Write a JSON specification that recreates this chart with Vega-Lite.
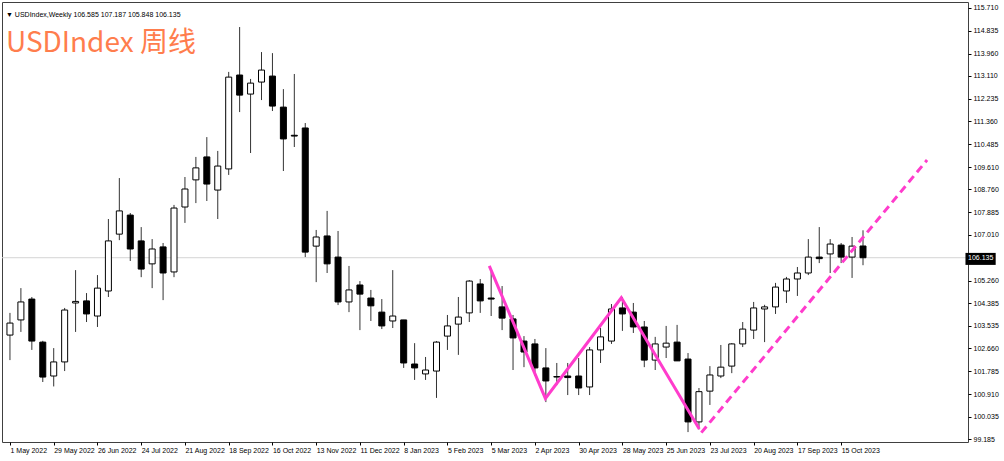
{
  "$schema": "https://vega.github.io/schema/vega-lite/v6.json",
  "width": 966,
  "height": 440,
  "autosize": "none",
  "padding": {"left": 2, "top": 2, "right": 36, "bottom": 19},
  "background": "white",
  "config": {
    "view": {"stroke": "#404040", "strokeWidth": 1},
    "font": "Liberation Sans",
    "axis": {"labelOverlap": false, "labelBound": false, "labelFlush": false}
  },
  "title": {
    "text": "▼ USDIndex,Weekly  106.585 107.187 105.848 106.135",
    "subtitle": "USDIndex 周线",
    "anchor": "start",
    "frame": "group",
    "orient": "top",
    "offset": -56,
    "dx": 4,
    "font": "Liberation Sans",
    "fontSize": 7,
    "fontWeight": "normal",
    "color": "#000000",
    "subtitleFont": "Noto Sans CJK SC",
    "subtitleFontSize": 28,
    "subtitleColor": "#ff7d4d",
    "subtitlePadding": 12
  },
  "datasets": {
    "candles": [
      {"date": "2022-05-01", "open": 103.17, "high": 104.02, "low": 102.21, "close": 103.63},
      {"date": "2022-05-08", "open": 103.75, "high": 104.97, "low": 103.29, "close": 104.44},
      {"date": "2022-05-15", "open": 104.55, "high": 104.63, "low": 102.60, "close": 102.94},
      {"date": "2022-05-22", "open": 102.90, "high": 102.95, "low": 101.37, "close": 101.56},
      {"date": "2022-05-29", "open": 101.60, "high": 102.67, "low": 101.20, "close": 102.14},
      {"date": "2022-06-05", "open": 102.14, "high": 104.21, "low": 101.79, "close": 104.13},
      {"date": "2022-06-12", "open": 104.40, "high": 105.66, "low": 103.29, "close": 104.46},
      {"date": "2022-06-19", "open": 104.48, "high": 104.78, "low": 103.67, "close": 103.98},
      {"date": "2022-06-26", "open": 103.90, "high": 105.47, "low": 103.48, "close": 104.97},
      {"date": "2022-07-03", "open": 104.86, "high": 107.62, "low": 104.63, "close": 106.78},
      {"date": "2022-07-10", "open": 107.04, "high": 109.19, "low": 106.81, "close": 107.93},
      {"date": "2022-07-17", "open": 107.77, "high": 107.85, "low": 106.01, "close": 106.47},
      {"date": "2022-07-24", "open": 106.78, "high": 107.31, "low": 105.39, "close": 105.70},
      {"date": "2022-07-31", "open": 105.90, "high": 106.85, "low": 104.97, "close": 106.47},
      {"date": "2022-08-07", "open": 106.55, "high": 106.70, "low": 104.51, "close": 105.55},
      {"date": "2022-08-14", "open": 105.59, "high": 108.16, "low": 105.39, "close": 108.04},
      {"date": "2022-08-21", "open": 108.08, "high": 109.23, "low": 107.47, "close": 108.77},
      {"date": "2022-08-28", "open": 109.12, "high": 110.00, "low": 108.23, "close": 109.58},
      {"date": "2022-09-04", "open": 110.00, "high": 110.76, "low": 108.31, "close": 108.96},
      {"date": "2022-09-11", "open": 108.73, "high": 110.23, "low": 107.62, "close": 109.65},
      {"date": "2022-09-18", "open": 109.54, "high": 113.26, "low": 109.31, "close": 113.06},
      {"date": "2022-09-25", "open": 113.14, "high": 114.98, "low": 111.72, "close": 112.37},
      {"date": "2022-10-02", "open": 112.41, "high": 112.99, "low": 110.15, "close": 112.83},
      {"date": "2022-10-09", "open": 112.87, "high": 114.02, "low": 112.18, "close": 113.33},
      {"date": "2022-10-16", "open": 113.10, "high": 113.98, "low": 111.76, "close": 111.95},
      {"date": "2022-10-23", "open": 111.91, "high": 112.60, "low": 109.46, "close": 110.69},
      {"date": "2022-10-30", "open": 110.83, "high": 113.18, "low": 110.38, "close": 110.80},
      {"date": "2022-11-06", "open": 111.11, "high": 111.30, "low": 106.16, "close": 106.35},
      {"date": "2022-11-13", "open": 106.58, "high": 107.20, "low": 105.20, "close": 106.93},
      {"date": "2022-11-20", "open": 106.97, "high": 107.93, "low": 105.55, "close": 105.90},
      {"date": "2022-11-27", "open": 106.16, "high": 107.16, "low": 104.32, "close": 104.44},
      {"date": "2022-12-04", "open": 104.44, "high": 105.82, "low": 104.05, "close": 104.90},
      {"date": "2022-12-11", "open": 105.09, "high": 105.24, "low": 103.36, "close": 104.74},
      {"date": "2022-12-18", "open": 104.59, "high": 104.90, "low": 103.71, "close": 104.29},
      {"date": "2022-12-25", "open": 104.05, "high": 104.55, "low": 103.40, "close": 103.52},
      {"date": "2023-01-01", "open": 103.71, "high": 105.66, "low": 103.44, "close": 103.90},
      {"date": "2023-01-08", "open": 103.75, "high": 103.75, "low": 101.91, "close": 102.10},
      {"date": "2023-01-15", "open": 102.06, "high": 102.86, "low": 101.45, "close": 101.91},
      {"date": "2023-01-22", "open": 101.68, "high": 102.33, "low": 101.45, "close": 101.83},
      {"date": "2023-01-29", "open": 101.79, "high": 102.94, "low": 100.76, "close": 102.90},
      {"date": "2023-02-05", "open": 103.13, "high": 103.94, "low": 102.60, "close": 103.52},
      {"date": "2023-02-12", "open": 103.59, "high": 104.63, "low": 102.41, "close": 103.86},
      {"date": "2023-02-19", "open": 104.02, "high": 105.28, "low": 103.67, "close": 105.24},
      {"date": "2023-02-26", "open": 105.13, "high": 105.32, "low": 104.02, "close": 104.48},
      {"date": "2023-03-05", "open": 104.59, "high": 105.60, "low": 103.90, "close": 104.55},
      {"date": "2023-03-12", "open": 104.25, "high": 105.05, "low": 103.36, "close": 103.82},
      {"date": "2023-03-19", "open": 103.79, "high": 103.94, "low": 101.83, "close": 103.06},
      {"date": "2023-03-26", "open": 102.94, "high": 103.13, "low": 101.94, "close": 102.52},
      {"date": "2023-04-02", "open": 102.83, "high": 103.02, "low": 101.60, "close": 101.91},
      {"date": "2023-04-09", "open": 101.91, "high": 102.67, "low": 100.60, "close": 101.41},
      {"date": "2023-04-16", "open": 101.56, "high": 102.10, "low": 101.25, "close": 101.58},
      {"date": "2023-04-23", "open": 101.60, "high": 102.10, "low": 100.87, "close": 101.54},
      {"date": "2023-04-30", "open": 101.60, "high": 102.29, "low": 100.87, "close": 101.14},
      {"date": "2023-05-07", "open": 101.18, "high": 102.71, "low": 100.87, "close": 102.60},
      {"date": "2023-05-14", "open": 102.60, "high": 103.44, "low": 102.10, "close": 103.10},
      {"date": "2023-05-21", "open": 102.94, "high": 104.36, "low": 102.83, "close": 104.17},
      {"date": "2023-05-28", "open": 104.21, "high": 104.63, "low": 103.33, "close": 103.98},
      {"date": "2023-06-04", "open": 104.05, "high": 104.40, "low": 103.25, "close": 103.48},
      {"date": "2023-06-11", "open": 103.48, "high": 103.71, "low": 101.94, "close": 102.21},
      {"date": "2023-06-18", "open": 102.21, "high": 103.10, "low": 101.83, "close": 102.83},
      {"date": "2023-06-25", "open": 102.71, "high": 103.52, "low": 102.29, "close": 102.86},
      {"date": "2023-07-02", "open": 102.90, "high": 103.56, "low": 102.18, "close": 102.18},
      {"date": "2023-07-09", "open": 102.25, "high": 102.48, "low": 99.45, "close": 99.84},
      {"date": "2023-07-16", "open": 99.84, "high": 101.14, "low": 99.55, "close": 101.00},
      {"date": "2023-07-23", "open": 101.02, "high": 101.98, "low": 100.49, "close": 101.64},
      {"date": "2023-07-30", "open": 101.60, "high": 102.79, "low": 101.52, "close": 101.94},
      {"date": "2023-08-06", "open": 101.98, "high": 102.86, "low": 101.71, "close": 102.83},
      {"date": "2023-08-13", "open": 102.83, "high": 103.67, "low": 102.71, "close": 103.40},
      {"date": "2023-08-20", "open": 103.36, "high": 104.44, "low": 103.02, "close": 104.21},
      {"date": "2023-08-27", "open": 104.17, "high": 104.33, "low": 102.90, "close": 104.25},
      {"date": "2023-09-03", "open": 104.25, "high": 105.17, "low": 103.98, "close": 105.01},
      {"date": "2023-09-10", "open": 104.86, "high": 105.40, "low": 104.40, "close": 105.32},
      {"date": "2023-09-17", "open": 105.32, "high": 105.78, "low": 104.67, "close": 105.55},
      {"date": "2023-09-24", "open": 105.55, "high": 106.85, "low": 105.47, "close": 106.16},
      {"date": "2023-10-01", "open": 106.16, "high": 107.31, "low": 105.93, "close": 106.10},
      {"date": "2023-10-08", "open": 106.28, "high": 106.85, "low": 105.55, "close": 106.66},
      {"date": "2023-10-15", "open": 106.62, "high": 106.70, "low": 105.93, "close": 106.16},
      {"date": "2023-10-22", "open": 106.16, "high": 106.93, "low": 105.36, "close": 106.58},
      {"date": "2023-10-29", "open": 106.585, "high": 107.187, "low": 105.848, "close": 106.135}
    ],
    "zigzag": [
      {"t": "2023-03-03T19:00:00Z", "price": 105.82},
      {"t": "2023-04-08T17:00:00Z", "price": 100.74},
      {"t": "2023-05-27T07:00:00Z", "price": 104.60},
      {"t": "2023-07-16T05:00:00Z", "price": 99.57}
    ],
    "trend": [
      {"t": "2023-07-17T12:00:00Z", "price": 99.43},
      {"t": "2023-12-09T00:00:00Z", "price": 109.88}
    ],
    "current": [
      {"label": "106.135", "price": 106.135, "lo": 105.86, "hi": 106.32}
    ]
  },
  "layer": [
    {
      "data": {"name": "current"},
      "mark": {"type": "rule", "color": "#d4d4d4", "strokeWidth": 1},
      "encoding": {
        "y": {
          "field": "price", "type": "quantitative", "title": null,
          "scale": {"domain": [99.07, 115.94], "nice": false, "zero": false},
          "axis": {
            "orient": "right",
            "values": [99.185, 100.035, 100.91, 101.785, 102.66, 103.535, 104.385, 105.26, 107.01, 107.885, 108.76, 109.61, 110.485, 111.36, 112.235, 113.11, 113.96, 114.835, 115.71],
            "tickCount": 40,
            "format": ".3f",
            "labelFontSize": 7,
            "labelColor": "#000000",
            "tickColor": "#000000",
            "tickSize": 3,
            "labelPadding": 2,
            "domain": false,
            "grid": false,
            "labelOverlap": false,
            "labelBound": false,
            "labelFlush": false
          }
        }
      }
    },
    {
      "data": {"name": "candles"},
      "mark": {"type": "rule", "color": "#333333", "strokeWidth": 1},
      "encoding": {
        "x": {
          "field": "date", "type": "temporal", "title": null,
          "scale": {
            "type": "utc",
            "domain": [
              {"year": 2022, "month": 4, "date": 29, "hours": 2, "minutes": 24, "utc": true},
              {"year": 2024, "month": 1, "date": 1, "utc": true}
            ]
          },
          "axis": {
            "orient": "bottom",
            "values": [
              {"year": 2022, "month": 5, "date": 1, "utc": true},
              {"year": 2022, "month": 5, "date": 29, "utc": true},
              {"year": 2022, "month": 6, "date": 26, "utc": true},
              {"year": 2022, "month": 7, "date": 24, "utc": true},
              {"year": 2022, "month": 8, "date": 21, "utc": true},
              {"year": 2022, "month": 9, "date": 18, "utc": true},
              {"year": 2022, "month": 10, "date": 16, "utc": true},
              {"year": 2022, "month": 11, "date": 13, "utc": true},
              {"year": 2022, "month": 12, "date": 11, "utc": true},
              {"year": 2023, "month": 1, "date": 8, "utc": true},
              {"year": 2023, "month": 2, "date": 5, "utc": true},
              {"year": 2023, "month": 3, "date": 5, "utc": true},
              {"year": 2023, "month": 4, "date": 2, "utc": true},
              {"year": 2023, "month": 4, "date": 30, "utc": true},
              {"year": 2023, "month": 5, "date": 28, "utc": true},
              {"year": 2023, "month": 6, "date": 25, "utc": true},
              {"year": 2023, "month": 7, "date": 23, "utc": true},
              {"year": 2023, "month": 8, "date": 20, "utc": true},
              {"year": 2023, "month": 9, "date": 17, "utc": true},
              {"year": 2023, "month": 10, "date": 15, "utc": true}
            ],
            "tickCount": 40,
            "format": "%-d %b %Y",
            "labelAlign": "left",
            "labelBaseline": "top",
            "labelFontSize": 7,
            "labelColor": "#000000",
            "tickColor": "#000000",
            "tickSize": 3,
            "labelPadding": 1,
            "domain": false,
            "grid": false,
            "labelOverlap": false,
            "labelFlush": false,
            "labelBound": false
          }
        },
        "y": {"field": "low", "type": "quantitative", "title": null},
        "y2": {"field": "high"}
      }
    },
    {
      "data": {"name": "candles"},
      "mark": {"type": "bar", "size": 6, "stroke": "#000000", "strokeWidth": 1},
      "encoding": {
        "x": {"field": "date", "type": "temporal", "title": null},
        "y": {"field": "open", "type": "quantitative", "title": null},
        "y2": {"field": "close"},
        "fill": {
          "condition": {"test": "datum.close < datum.open", "value": "#000000"},
          "value": "#ffffff"
        }
      }
    },
    {
      "data": {"name": "zigzag"},
      "mark": {"type": "line", "color": "#ff3ccc", "strokeWidth": 3},
      "encoding": {
        "x": {"field": "t", "type": "temporal", "title": null},
        "y": {"field": "price", "type": "quantitative", "title": null}
      }
    },
    {
      "data": {"name": "trend"},
      "mark": {"type": "line", "color": "#ff3ccc", "strokeWidth": 3, "strokeDash": [8, 5]},
      "encoding": {
        "x": {"field": "t", "type": "temporal", "title": null},
        "y": {"field": "price", "type": "quantitative", "title": null}
      }
    },
    {
      "data": {"name": "current"},
      "mark": {"type": "rect", "color": "#000000"},
      "encoding": {
        "x": {"datum": {"year": 2024, "month": 1, "date": 2, "hours": 14, "utc": true}, "type": "temporal"},
        "x2": {"datum": {"year": 2024, "month": 1, "date": 21, "hours": 22, "utc": true}},
        "y": {"field": "lo", "type": "quantitative", "title": null},
        "y2": {"field": "hi"}
      }
    },
    {
      "data": {"name": "current"},
      "mark": {"type": "text", "color": "#ffffff", "fontSize": 7, "align": "left", "baseline": "middle"},
      "encoding": {
        "x": {"datum": {"year": 2024, "month": 1, "date": 4, "hours": 5, "utc": true}, "type": "temporal"},
        "y": {"field": "price", "type": "quantitative", "title": null},
        "text": {"field": "label"}
      }
    }
  ]
}
